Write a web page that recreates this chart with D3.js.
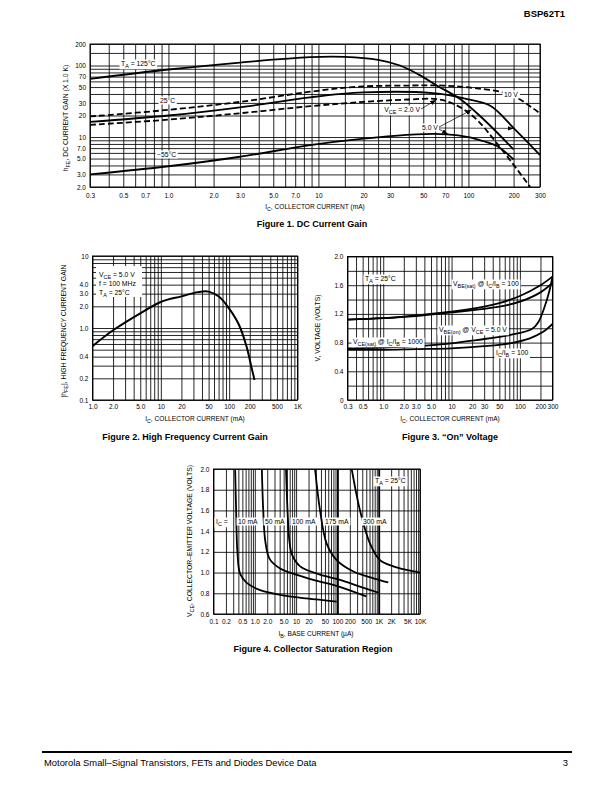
<!DOCTYPE html>
<html><head><meta charset="utf-8">
<script src="https://cdn.jsdelivr.net/npm/d3@7"></script>
<style>
body{margin:0;background:#fff}
svg{display:block}
text{font-family:"Liberation Sans",Arial,Helvetica,sans-serif;fill:#000}
</style>
</head><body>
<svg id="page" width="612" height="792"></svg>
<script>
// ---------------- DATA ----------------
// Figure 1 : DC current gain
const fig1XTicks = [0.3,0.5,0.7,1,2,3,5,7,10,20,30,50,70,100,200,300];
const fig1XLabels = ["0.3","0.5","0.7","1.0","2.0","3.0","5.0","7.0","10","20","30","50","70","100","200","300"];
const fig1YTicks = [2,3,5,7,10,20,30,50,70,100,200];
const fig1YLabels = ["2.0","3.0","5.0","7.0","10","20","30","50","70","100","200"];
const fig1XGrid = [0.3,0.4,0.5,0.6,0.7,0.8,0.9,1,1.5,2,3,4,5,6,7,8,9,10,15,20,25,30,40,50,60,70,80,90,100,150,200,250,300];
const fig1YGrid = [2,3,4,5,6,7,8,9,10,20,30,40,50,60,70,80,90,100,150,200];
const hfe125C   = [[0.3,65],[1,88],[3,110],[8.8,131],[15,132],[25,120],[35,100],[47,74],[61,53],[88,34],[125,18],[200,6.7]];
const hfe25C10V = [[0.3,19.4],[1,24],[3,31],[8.8,43],[18,50.5],[40,52.5],[68,52.4],[108,48.5],[192,39],[300,21.3]];
const hfe25C5V  = [[0.3,16.3],[1,20],[3,26],[8.8,35.9],[20,42],[58,41],[98,34],[140,27.4],[204,12.8],[300,5.6]];
const hfe25C2V  = [[0.3,14.8],[1,17.5],[3,21.5],[8.8,27],[20,31],[40,33.5],[61,34],[80,29],[109,19],[160,7.5],[258,2.0]];
const hfeM55C   = [[0.3,3.0],[1,3.9],[3,5.3],[8.8,7.7],[20,9.5],[45,10.9],[72,10.9],[100,10],[125,8.8],[155,7.5],[200,4.85]];

// Figure 2 : high frequency current gain
const fig2XTicks = [1,2,5,10,20,50,100,200,500,1000];
const fig2XLabels = ["1.0","2.0","5.0","10","20","50","100","200","500","1K"];
const fig2YTicks = [0.1,0.2,0.4,1,2,3,4,10];
const fig2YLabels = ["0.1","0.2","0.4","1.0","2.0","3.0","4.0","10"];
const fig2Gain = [[1,0.56],[2,0.93],[5,1.6],[10,2.3],[20,2.75],[35,3.15],[50,3.2],[72,2.7],[100,1.86],[139,1.11],[180,0.55],[211,0.29],[235,0.19]];

// Figure 3 : "On" voltage
const fig3XTicks = [0.3,0.5,1,2,3,5,10,20,30,50,100,200,300];
const fig3XLabels = ["0.3","0.5","1.0","2.0","3.0","5.0","10","20","30","50","100","200","300"];
const fig3YTicks = [0,0.4,0.8,1.2,1.6,2.0];
const fig3YLabels = ["0","0.4","0.8","1.2","1.6","2.0"];
const vbeSat100  = [[0.3,1.12],[1,1.14],[3,1.18],[10,1.23],[30,1.30],[50,1.35],[100,1.45],[200,1.60],[300,1.72]];
const vbeOn5V    = [[0.3,1.12],[1,1.14],[3,1.17],[10,1.22],[30,1.27],[50,1.30],[100,1.37],[200,1.50],[300,1.63]];
const vceSat1000 = [[0.3,0.72],[1,0.73],[3,0.75],[10,0.79],[23,0.835],[71,0.905],[150,0.99],[185,1.08],[230,1.3],[270,1.52],[300,1.72]];
const vceSat100  = [[0.3,0.70],[1,0.70],[3,0.71],[10,0.72],[30,0.75],[71,0.79],[140,0.86],[219,0.95],[300,1.06]];

// Figure 4 : collector saturation region
const fig4XTicks = [0.1,0.2,0.5,1,2,5,10,20,50,100,200,500,1000,2000,5000,10000];
const fig4XLabels = ["0.1","0.2","0.5","1.0","2.0","5.0","10","20","50","100","200","500","1K","2K","5K","10K"];
const fig4YTicks = [0.6,0.8,1.0,1.2,1.4,1.6,1.8,2.0];
const fig4YLabels = ["0.6","0.8","1.0","1.2","1.4","1.6","1.8","2.0"];
const sat10mA  = [[0.334,2.0],[0.353,1.6],[0.38,1.19],[0.44,0.99],[0.64,0.9],[1.35,0.83],[4.1,0.785],[18,0.75],[96,0.72]];
const sat50mA  = [[1.48,2.0],[1.6,1.6],[1.8,1.3],[2.3,1.13],[4.1,1.04],[10,0.98],[26,0.93],[100,0.87],[500,0.77]];
const sat100mA = [[5.7,2.0],[6.2,1.6],[6.9,1.3],[8,1.17],[12.5,1.06],[38,0.98],[116,0.93],[350,0.865],[1000,0.805]];
const sat175mA = [[28.8,2.0],[38,1.6],[55,1.28],[96,1.12],[244,1.01],[743,0.945],[1700,0.905]];
const sat300mA = [[222,2.0],[353,1.6],[617,1.28],[1076,1.12],[2260,1.06],[4760,1.025],[10000,1.0]];

// ---------------- DRAWING ----------------
const svg = d3.select("#page");
const defs = svg.append("defs");
defs.append("marker").attr("id","arr").attr("viewBox","0 0 8 6").attr("refX",8).attr("refY",3)
  .attr("markerWidth",6).attr("markerHeight",4.5).attr("orient","auto").attr("markerUnits","userSpaceOnUse")
  .append("path").attr("d","M0,0L8,3L0,6Z").attr("fill","#000");

function decades(from, to){
  const out=[];
  for(let d=from; d<to*0.99; d*=10){ for(let m=1;m<10;m++) out.push(+(d*m).toPrecision(3)); }
  out.push(to);
  return out;
}
function range(a,b,s){const o=[];for(let v=a;v<=b+1e-9;v+=s)o.push(+v.toFixed(3));return o;}

let clipN=0;
function panel(c){
  const g = svg.append("g");
  const x = (c.xLog?d3.scaleLog():d3.scaleLinear()).domain(c.xDomain).range([c.left,c.right]);
  const y = (c.yLog?d3.scaleLog():d3.scaleLinear()).domain(c.yDomain).range([c.bottom,c.top]);
  const w=c.right-c.left, h=c.bottom-c.top;
  const vg = g.append("g").attr("transform",`translate(0,${c.bottom})`)
    .call(d3.axisBottom(x).tickValues(c.xGrid).tickSize(-h).tickFormat(""));
  vg.select(".domain").remove();
  vg.selectAll("line").attr("stroke","#000").attr("stroke-width",d=>(c.xBold||[]).includes(d)?1.9:0.85);
  const hg = g.append("g").attr("transform",`translate(${c.left},0)`)
    .call(d3.axisLeft(y).tickValues(c.yGrid).tickSize(-w).tickFormat(""));
  hg.select(".domain").remove();
  hg.selectAll("line").attr("stroke","#000").attr("stroke-width",0.85);
  g.append("rect").attr("x",c.left).attr("y",c.top).attr("width",w).attr("height",h)
    .attr("fill","none").attr("stroke","#000").attr("stroke-width",1);
  const xa = g.append("g").attr("transform",`translate(0,${c.bottom})`)
    .call(d3.axisBottom(x).tickValues(c.xTicks).tickFormat((d,i)=>c.xLabels[i]).tickSize(0).tickPadding(c.xPad||4));
  xa.select(".domain").remove();
  xa.attr("font-family",null).attr("font-size",null);
  xa.selectAll("text").attr("font-size",6.5);
  const ya = g.append("g").attr("transform",`translate(${c.left},0)`)
    .call(d3.axisLeft(y).tickValues(c.yTicks).tickFormat((d,i)=>c.yLabels[i]).tickSize(0).tickPadding(4));
  ya.select(".domain").remove();
  ya.attr("font-family",null).attr("font-size",null);
  ya.selectAll("text").attr("font-size",6.5);
  const id="clip"+(clipN++);
  defs.append("clipPath").attr("id",id).append("rect").attr("x",c.left).attr("y",c.top).attr("width",w).attr("height",h);
  const cg = g.append("g").attr("clip-path",`url(#${id})`);
  const lg = g.append("g");
  return {g,x,y,cg,lg};
}

function curve(p, data, dashed, sw){
  const line = d3.line().x(d=>p.x(d[0])).y(d=>p.y(d[1])).curve(d3.curveCatmullRom.alpha(0.5));
  p.cg.append("path").datum(data).attr("d",line).attr("fill","none").attr("stroke","#000")
    .attr("stroke-width",sw||1.8).attr("stroke-dasharray",dashed?"6,3":null).attr("stroke-linecap","butt");
}

function rich(parent, x, y, parts, opt){
  opt = opt||{};
  const size = opt.size||6.8;
  const t = parent.append("text").attr("x",x).attr("y",y).attr("font-size",size)
    .attr("text-anchor",opt.anchor||"start").attr("font-weight",opt.bold?"bold":null);
  if(opt.rotate) t.attr("transform",`rotate(-90,${x},${y})`);
  let shift=0;
  parts.forEach(pt=>{
    const sub = Array.isArray(pt);
    const ts = t.append("tspan").text(sub?pt[0]:pt);
    const want = sub?1.8:0;
    if(want!==shift){ ts.attr("dy",want-shift); shift=want; }
    if(sub) ts.attr("font-size",size*0.8);
  });
  if(opt.box){
    const b=t.node().getBBox();
    parent.insert("rect",()=>t.node()).attr("x",b.x-1.5).attr("y",b.y-0.5)
      .attr("width",b.width+3).attr("height",b.height+1).attr("fill","#fff");
  }
  return t;
}
function arrow(parent,x1,y1,x2,y2){
  parent.append("line").attr("x1",x1).attr("y1",y1).attr("x2",x2).attr("y2",y2)
    .attr("stroke","#000").attr("stroke-width",0.7).attr("marker-end","url(#arr)");
}

// Header / footer
svg.append("text").attr("x",565).attr("y",17).attr("text-anchor","end").attr("font-size",9.5)
  .attr("font-weight","bold").text("BSP62T1");
svg.append("line").attr("x1",42).attr("x2",572).attr("y1",752).attr("y2",752).attr("stroke","#000").attr("stroke-width",2.2);
svg.append("text").attr("x",44).attr("y",766).attr("font-size",9.4)
  .text("Motorola Small–Signal Transistors, FETs and Diodes Device Data");
svg.append("text").attr("x",568).attr("y",766).attr("font-size",9.4).attr("text-anchor","end").text("3");

// ---------- Figure 1 ----------
const p1 = panel({left:90,right:540,top:44,bottom:187,xLog:true,yLog:true,xDomain:[0.3,300],yDomain:[2,200],xPad:6,
  xGrid:fig1XGrid,yGrid:fig1YGrid,xTicks:fig1XTicks,xLabels:fig1XLabels,yTicks:fig1YTicks,yLabels:fig1YLabels});
curve(p1,hfe125C,false);
curve(p1,hfe25C10V,true);
curve(p1,hfe25C5V,false);
curve(p1,hfe25C2V,true);
curve(p1,hfeM55C,false);
rich(p1.lg,121,66,["T",["A"]," = 125°C"],{box:true});
rich(p1.lg,160,103,["25°C"],{box:true});
rich(p1.lg,157,157,["−55°C"],{box:true});
rich(p1.lg,p1.x(192),p1.y(39)+2,["10 V"],{box:true,anchor:"middle"});
rich(p1.lg,420,112,["V",["CE"]," = 2.0 V"],{box:true,anchor:"end"});
arrow(p1.lg,421,109,p1.x(61),p1.y(34)+1);
rich(p1.lg,422,130,["5.0 V"],{box:true});
arrow(p1.lg,439,127,p1.x(105),p1.y(24));
arrow(p1.lg,439,128,p1.x(200),p1.y(13.2));
arrow(p1.lg,439,129,p1.x(73),p1.y(10.9));
rich(svg,68,118,["h",["FE"],", DC CURRENT GAIN (X 1.0 K)"],{rotate:true,anchor:"middle",size:6.8});
rich(svg,315,209,["I",["C"],", COLLECTOR CURRENT (mA)"],{anchor:"middle",size:6.6});
svg.append("text").attr("x",312).attr("y",227).attr("text-anchor","middle").attr("font-size",9)
  .attr("font-weight","bold").text("Figure 1. DC Current Gain");

// ---------- Figure 2 ----------
const p2 = panel({left:92.5,right:297.5,top:256,bottom:400,xLog:true,yLog:true,xDomain:[1,1000],yDomain:[0.1,10],xPad:4,
  xGrid:decades(1,1000),yGrid:decades(0.1,10),xTicks:fig2XTicks,xLabels:fig2XLabels,yTicks:fig2YTicks,yLabels:fig2YLabels});
curve(p2,fig2Gain,false,2);
p2.lg.append("rect").attr("x",96).attr("y",266).attr("width",46).attr("height",31).attr("fill","#fff");
rich(p2.lg,99,277,["V",["CE"]," = 5.0 V"]);
rich(p2.lg,99,285.5,["f = 100 MHz"]);
rich(p2.lg,99,295,["T",["A"]," = 25°C"]);
rich(svg,66,331,["|h",["FE"],"|, HIGH FREQUENCY CURRENT GAIN"],{rotate:true,anchor:"middle",size:6.8});
rich(svg,195,421,["I",["C"],", COLLECTOR CURRENT (mA)"],{anchor:"middle",size:6.6});
svg.append("text").attr("x",185).attr("y",440).attr("text-anchor","middle").attr("font-size",9)
  .attr("font-weight","bold").text("Figure 2. High Frequency Current Gain");

// ---------- Figure 3 ----------
const fig3XGrid = [0.3,0.4,0.5,0.6,0.7,0.8,0.9].concat(decades(1,100)).concat([200,300]);
const p3 = panel({left:347.5,right:552.5,top:256.5,bottom:400,xLog:true,yLog:false,xDomain:[0.3,300],yDomain:[0,2],xPad:4,
  xGrid:fig3XGrid,yGrid:range(0,2,0.2),xTicks:fig3XTicks,xLabels:fig3XLabels,yTicks:fig3YTicks,yLabels:fig3YLabels});
curve(p3,vbeSat100,false);
curve(p3,vbeOn5V,false);
curve(p3,vceSat1000,false);
curve(p3,vceSat100,false);
rich(p3.lg,365,281,["T",["A"]," = 25°C"],{box:true});
rich(p3.lg,453,286,["V",["BE(sat)"]," @ I",["C"],"/I",["B"]," = 100"],{box:true});
rich(p3.lg,439,332,["V",["BE(on)"]," @ V",["CE"]," = 5.0 V"],{box:true});
rich(p3.lg,353,344,["V",["CE(sat)"]," @ I",["C"],"/I",["B"]," = 1000"],{box:true});
rich(p3.lg,496,355,["I",["C"],"/I",["B"]," = 100"],{box:true});
rich(svg,320,328,["V, VOLTAGE (VOLTS)"],{rotate:true,anchor:"middle",size:6.8});
rich(svg,450,421,["I",["C"],", COLLECTOR CURRENT (mA)"],{anchor:"middle",size:6.6});
svg.append("text").attr("x",450).attr("y",440).attr("text-anchor","middle").attr("font-size",9)
  .attr("font-weight","bold").text("Figure 3. “On” Voltage");

// ---------- Figure 4 ----------
const p4 = panel({left:213.5,right:420,top:469,bottom:614,xLog:true,yLog:false,xDomain:[0.1,10000],yDomain:[0.6,2.0],xPad:5,
  xGrid:decades(0.1,10000),xBold:[100,1000],yGrid:range(0.6,2.0,0.2),xTicks:fig4XTicks,xLabels:fig4XLabels,yTicks:fig4YTicks,yLabels:fig4YLabels});
curve(p4,sat10mA,false);
curve(p4,sat50mA,false);
curve(p4,sat100mA,false);
curve(p4,sat175mA,false);
curve(p4,sat300mA,false);
rich(p4.lg,375,483,["T",["A"]," = 25°C"],{box:true});
rich(p4.lg,216,524,["I",["C"]," ="],{box:true});
rich(p4.lg,238,524,["10 mA"],{box:true});
rich(p4.lg,265,524,["50 mA"],{box:true});
rich(p4.lg,292,524,["100 mA"],{box:true});
rich(p4.lg,325,524,["175 mA"],{box:true});
rich(p4.lg,363,524,["300 mA"],{box:true});
rich(svg,192,541,["V",["CE"],", COLLECTOR–EMITTER VOLTAGE (VOLTS)"],{rotate:true,anchor:"middle",size:6.8});
rich(svg,316,636,["I",["B"],", BASE CURRENT (µA)"],{anchor:"middle",size:6.6});
svg.append("text").attr("x",313).attr("y",652).attr("text-anchor","middle").attr("font-size",9)
  .attr("font-weight","bold").text("Figure 4. Collector Saturation Region");
</script>
</body></html>
